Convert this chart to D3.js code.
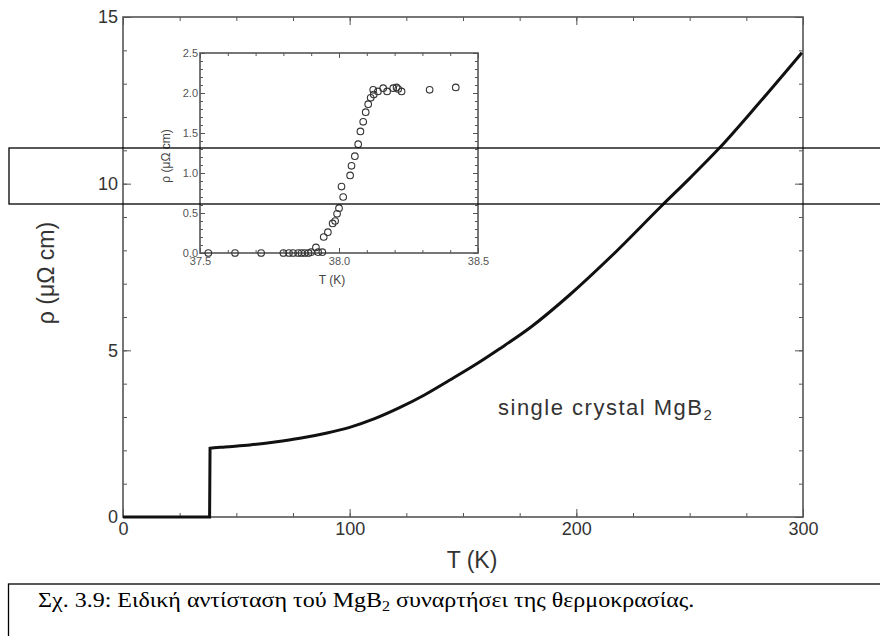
<!DOCTYPE html>
<html>
<head>
<meta charset="utf-8">
<script src="https://cdn.jsdelivr.net/npm/d3@7"></script>
<style>
  body { margin: 0; background: #fff; }
  svg text { font-family: "Liberation Sans", Arial, sans-serif; }
  .axis text { fill: #333; }
  .axis line { stroke: #555; }
  .axis path { display: none; }
</style>
</head>
<body>
<div class="main"></div>
<script>

// main curve, rho(T) of the crystal
const mainT   = [0, 10, 20, 30, 37.5, 38.2, 38.4, 45, 56, 67, 78, 90, 100, 111, 122, 133, 144, 155, 166, 180, 197, 216, 238, 250, 263, 281, 299.5]
const mainRho = [0, 0, 0, 0, 0, 0, 2.06, 2.1, 2.16, 2.25, 2.36, 2.52, 2.69, 2.95, 3.28, 3.66, 4.1, 4.55, 5.04, 5.7, 6.66, 7.86, 9.36, 10.16, 11.06, 12.45, 13.93]

// inset, transition region
const insetT   = [37.53, 37.626, 37.72, 37.80, 37.82, 37.835, 37.853, 37.865, 37.877, 37.89, 37.90, 37.917, 37.925, 37.94,
                  37.945, 37.96, 37.977, 37.986, 37.993, 38.0, 38.009, 38.015, 38.04, 38.045, 38.057, 38.069, 38.077,
                  38.087, 38.096, 38.105, 38.114, 38.123, 38.125, 38.14, 38.159, 38.173, 38.195, 38.207, 38.213, 38.225,
                  38.326, 38.42]
const insetRho = [0, 0, 0, 0, 0, 0, 0, 0, 0, 0, 0.01, 0.07, 0.01, 0.01,
                  0.2, 0.26, 0.37, 0.4, 0.49, 0.56, 0.83, 0.70, 0.97, 1.09, 1.21, 1.36, 1.52,
                  1.64, 1.76, 1.86, 1.94, 2.04, 1.98, 2.02, 2.06, 2.02, 2.06, 2.07, 2.05, 2.02,
                  2.04, 2.07]

const mainXTicks = [0, 100, 200, 300]
const mainYTicks = [0, 5, 10, 15]
const insetXTicks = [37.5, 38.0, 38.5]
const insetYTicks = [0, 0.5, 1.0, 1.5, 2.0, 2.5]

const caption = "Σχ. 3.9: Ειδική αντίσταση τού MgB"
const captionEnd = " συναρτήσει της θερμοκρασίας."

const w = 880
const h = 636

const svg = d3.select(".main")
    .append("svg")
    .attr("width", w)
    .attr("height", h)

////////////
// SCALES //
////////////

const main = { left: 123, right: 803, top: 17, bottom: 517 }

const xScale = d3.scaleLinear().domain([0, 300]).range([main.left, main.right])
const yScale = d3.scaleLinear().domain([0, 15]).range([main.bottom, main.top])

const ins = { left: 200, right: 478, top: 53, bottom: 253 }

const xIn = d3.scaleLinear().domain([37.5, 38.5]).range([ins.left, ins.right])
const yIn = d3.scaleLinear().domain([0, 2.5]).range([ins.bottom, ins.top])

// draws inward ticks on all four sides
const frameAxes = (g, x, y, b, xMinor, yMinor, xMajor, yMajor, big, small, fmt, fs, pad) => {
    const put = (axis, tr) => g.append("g").attr("class", "axis")
        .attr("transform", tr).call(axis)
        .call(s => s.selectAll("text").style("font-size", fs + "px"))

    put(d3.axisBottom(x).tickValues(xMinor).tickSize(-small).tickFormat(""), `translate(0,${b.bottom})`)
    put(d3.axisTop(x).tickValues(xMinor).tickSize(-small).tickFormat(""), `translate(0,${b.top})`)
    put(d3.axisLeft(y).tickValues(yMinor).tickSize(-small).tickFormat(""), `translate(${b.left},0)`)
    put(d3.axisRight(y).tickValues(yMinor).tickSize(-small).tickFormat(""), `translate(${b.right},0)`)

    put(d3.axisBottom(x).tickValues(xMajor).tickSize(-big).tickPadding(pad[0]).tickFormat(fmt), `translate(0,${b.bottom})`)
    put(d3.axisTop(x).tickValues(xMajor).tickSize(-big).tickFormat(""), `translate(0,${b.top})`)
    put(d3.axisLeft(y).tickValues(yMajor).tickSize(-big).tickPadding(pad[1]).tickFormat(fmt), `translate(${b.left},0)`)
    put(d3.axisRight(y).tickValues(yMajor).tickSize(-big).tickFormat(""), `translate(${b.right},0)`)

    g.append("rect")
        .attr("x", b.left).attr("y", b.top)
        .attr("width", b.right - b.left).attr("height", b.bottom - b.top)
        .attr("fill", "none").attr("stroke", "#555").attr("stroke-width", 1.6)
}

//////////
// MAIN //
//////////

const gMain = svg.append("g")
frameAxes(gMain, xScale, yScale, main,
    d3.range(0, 301, 25), d3.range(0, 16, 1), mainXTicks, mainYTicks,
    8, 4, d3.format("d"), 18, [5, 5])

gMain.append("path")
    .datum(mainT.map((t, i) => [t, mainRho[i]]))
    .attr("d", d3.line().x(d => xScale(d[0])).y(d => yScale(d[1])).curve(d3.curveMonotoneX))
    .attr("fill", "none")
    .attr("stroke", "#111")
    .attr("stroke-width", 3)

gMain.append("text")
    .attr("transform", `translate(54,273) rotate(-90)`)
    .attr("text-anchor", "middle")
    .style("font-size", "23px")
    .style("fill", "#333")
    .text("ρ  (μΩ cm)")

gMain.append("text")
    .attr("x", 472).attr("y", 568)
    .attr("text-anchor", "middle")
    .style("font-size", "23px")
    .style("fill", "#333")
    .text("T  (K)")

const lbl = gMain.append("text")
    .attr("x", 498).attr("y", 415)
    .style("font-size", "22px")
    .style("letter-spacing", "1.5px")
    .style("fill", "#333")
    .text("single crystal MgB")
lbl.append("tspan").attr("dy", 5).style("font-size", "15px").text("2")

///////////
// INSET //
///////////

const gIn = svg.append("g")
gIn.append("rect")
    .attr("x", ins.left).attr("y", ins.top)
    .attr("width", ins.right - ins.left).attr("height", ins.bottom - ins.top)
    .attr("fill", "#fff")

frameAxes(gIn, xIn, yIn, ins,
    d3.range(37.5, 38.51, 0.1), d3.range(0, 2.51, 0.1), insetXTicks, insetYTicks,
    5, 3, d3.format(".1f"), 11, [4, 2])
gIn.selectAll(".axis text").style("fill", "#555")

gIn.selectAll("circle")
    .data(insetT.map((t, i) => [t, insetRho[i]]))
    .enter()
    .append("circle")
    .attr("cx", d => xIn(d[0]))
    .attr("cy", d => yIn(d[1]))
    .attr("r", 3.3)
    .attr("fill", "none")
    .attr("stroke", "#333")
    .attr("stroke-width", 1.1)

gIn.append("text")
    .attr("transform", `translate(170,156) rotate(-90)`)
    .attr("text-anchor", "middle")
    .style("font-size", "12px")
    .style("fill", "#444")
    .text("ρ  (μΩ cm)")

gIn.append("text")
    .attr("x", 332).attr("y", 284)
    .attr("text-anchor", "middle")
    .style("font-size", "12px")
    .style("fill", "#444")
    .text("T  (K)")

/////////////
// OVERLAY //
/////////////

svg.append("rect")
    .attr("x", 9).attr("y", 148)
    .attr("width", 880).attr("height", 56)
    .attr("fill", "none").attr("stroke", "#000").attr("stroke-width", 1.3)

svg.append("rect")
    .attr("x", 8.5).attr("y", 584)
    .attr("width", 880).attr("height", 80)
    .attr("fill", "none").attr("stroke", "#000").attr("stroke-width", 1.3)

const cap = svg.append("text")
    .style("font-family", "'Liberation Serif', 'Times New Roman', serif")
    .style("font-size", "21px")
    .style("fill", "#000")
    .text(caption)
cap.append("tspan").attr("dy", 4).style("font-size", "14px").text("2")
cap.append("tspan").attr("dy", -4).text(captionEnd)

// the caption in the picture is a bit wider than the font gives
const capW = cap.node().getComputedTextLength()
cap.attr("transform", `translate(38,607) scale(${657 / capW},1)`)

</script>
</body>
</html>
